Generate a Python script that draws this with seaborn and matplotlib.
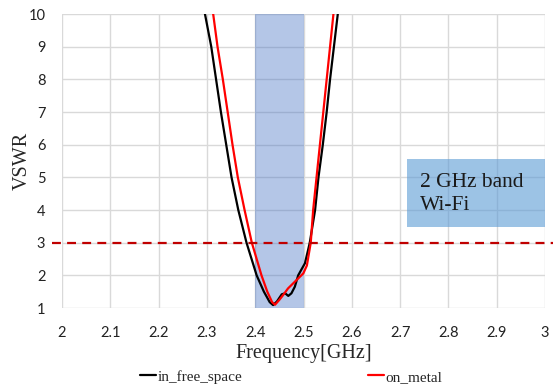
import numpy as np
import pandas as pd
import matplotlib
matplotlib.use("Agg")
import matplotlib.pyplot as plt
import seaborn as sns

# ---- data ----
free_freq = [2.296, 2.309, 2.319, 2.329, 2.340, 2.351, 2.365, 2.382, 2.403, 2.418,
             2.430, 2.437, 2.445, 2.455, 2.462, 2.4685, 2.475, 2.482, 2.489, 2.503,
             2.513, 2.524, 2.531, 2.540, 2.548, 2.555, 2.563, 2.571]
free_vswr = [10, 9, 8, 7, 6, 5, 4, 3, 2, 1.5,
             1.18, 1.09, 1.2, 1.42, 1.45, 1.37, 1.45, 1.65, 2.0, 2.37,
             3.0, 4, 5, 6, 7, 8, 9, 10]

metal_freq = [2.313, 2.322, 2.333, 2.343, 2.353, 2.364, 2.378, 2.393, 2.413, 2.425,
              2.435, 2.441, 2.450, 2.458, 2.468, 2.479, 2.490, 2.4996, 2.507, 2.515,
              2.520, 2.527, 2.534, 2.541, 2.548, 2.555, 2.562]
metal_vswr = [10, 9, 8, 7, 6, 5, 4, 3, 2, 1.5,
              1.18, 1.1, 1.25, 1.40, 1.6, 1.76, 1.92, 2.06, 2.3, 3.0,
              4, 5, 6, 7, 8, 9, 10]

series_names = ["in_free_space", "on_metal"]
series_colors = ["#000000", "#ff0000"]
x_ticks = [2.0, 2.1, 2.2, 2.3, 2.4, 2.5, 2.6, 2.7, 2.8, 2.9, 3.0]
x_tick_labels = ["2", "2.1", "2.2", "2.3", "2.4", "2.5", "2.6", "2.7", "2.8", "2.9", "3"]
y_ticks = [1, 2, 3, 4, 5, 6, 7, 8, 9, 10]
band = [2.4, 2.5]
vswr_limit = 3
band_text = "2 GHz band\nWi-Fi"

df = pd.concat([
    pd.DataFrame({"freq": free_freq, "vswr": free_vswr, "series": series_names[0]}),
    pd.DataFrame({"freq": metal_freq, "vswr": metal_vswr, "series": series_names[1]}),
])

sns.set_style("white")
plt.rcParams["font.family"] = ["Lato", "DejaVu Sans"]

fig = plt.figure(figsize=(5.53, 3.87), dpi=100)
ax = fig.add_axes([62 / 553, 1 - 308 / 387, (545 - 62) / 553, (308 - 14) / 387])

# grid
for xv in x_ticks:
    ax.axvline(xv, color="#d9d9d9", lw=1.0, zorder=0)
for yv in y_ticks:
    ax.axhline(yv, color="#d9d9d9", lw=1.0, zorder=0)

# band shading
ax.axvspan(band[0], band[1], color="#4472c4", alpha=0.4, lw=0, zorder=1)

sns.lineplot(data=df, x="freq", y="vswr", hue="series", palette=series_colors,
             hue_order=series_names, ax=ax, lw=1.6, zorder=3, sort=False,
             estimator=None, legend=True)
for ln in ax.get_lines():
    ln.set_solid_joinstyle("round")

# threshold line
ax.axhline(vswr_limit, xmin=-0.02, xmax=1.02, color="#c00000", lw=1.6,
           ls=(0, (4, 2.8)), clip_on=False, zorder=4)

# text box
ax.add_patch(plt.Rectangle((2.715, 3.48), 3.0 - 2.715, 5.56 - 3.48,
                           facecolor="#5b9bd5", alpha=0.6, lw=0, zorder=2))
ax.text(2.742, 4.48, band_text, family="Liberation Serif", fontsize=15.5,
        va="center", ha="left", linespacing=1.28, zorder=5, color="#1a1a1a")

ax.set_xlim(2.0, 3.0)
ax.set_ylim(1, 10)
ax.set_xticks(x_ticks)
ax.set_xticklabels(x_tick_labels)
ax.set_yticks(y_ticks)
ax.tick_params(axis="both", length=0, labelsize=10.5, labelcolor="#222222")
ax.tick_params(axis="x", pad=13)
ax.tick_params(axis="y", pad=12)
for s in ax.spines.values():
    s.set_visible(False)

ax.set_xlabel("Frequency[GHz]", family="Liberation Serif", fontsize=14.5, va="center")
ax.xaxis.set_label_coords(0.5, -0.155)
ax.set_ylabel("VSWR", family="Liberation Serif", fontsize=14.5, va="center")
ax.yaxis.set_label_coords(-0.083, 0.5)

handles, labels = ax.get_legend_handles_labels()
ax.legend_.remove()
fig.legend(handles, labels, loc="center", bbox_to_anchor=(0.527, 0.026), ncol=2,
           frameon=False, handlelength=1.05, handletextpad=0.1, columnspacing=8.2,
           prop={"family": "Liberation Serif", "size": 11})

fig.savefig("out.png", dpi=100)
